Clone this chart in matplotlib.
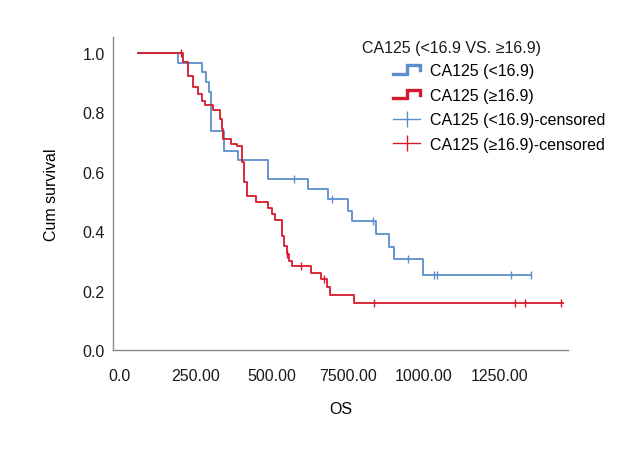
import numpy as np
import matplotlib
matplotlib.use("Agg")
import matplotlib.pyplot as plt
from matplotlib.lines import Line2D
from matplotlib.legend_handler import HandlerBase

plt.rcParams['font.family'] = ['Liberation Sans', 'DejaVu Sans']

# Kaplan-Meier steps
blue_t = [59, 191, 270, 283, 293, 299, 342, 388, 487, 618, 684, 750, 763, 842, 885, 901, 997, 1352]
blue_s = [1.0, 0.966, 0.936, 0.902, 0.869, 0.737, 0.670, 0.640, 0.576, 0.542, 0.508, 0.468,
          0.434, 0.390, 0.347, 0.306, 0.252, 0.252]
blue_cens = [572, 697, 832, 947, 1033, 1043, 1286, 1352]

red_t = [59, 207, 224, 240, 257, 270, 280, 306, 329, 336, 339, 365, 385, 401, 408, 418, 447, 487,
         500, 510, 533, 539, 549, 556, 566, 628, 661, 681, 691, 770, 1457]
red_s = [1.0, 0.970, 0.922, 0.886, 0.862, 0.838, 0.825, 0.808, 0.778, 0.744, 0.710, 0.695, 0.687,
         0.633, 0.566, 0.520, 0.498, 0.478, 0.458, 0.438, 0.384, 0.350, 0.323, 0.300, 0.283,
         0.259, 0.239, 0.212, 0.185, 0.158, 0.158]
red_cens = [201, 549, 595, 671, 836, 1299, 1332, 1451]

xticks = [0, 250, 500, 750, 1000, 1250]
xlabels = ['0.0', '250.00', '500.00', '7500.00', '1000.00', '1250.00']
yticks = [0.0, 0.2, 0.4, 0.6, 0.8, 1.0]
ylabels = ['0.0', '0.2', '0.4', '0.6', '0.8', '1.0']

BLUE = '#5b8fcb'
RED = '#d8192c'
FS = 11.5


def surv_at(t, s, c):
    idx = np.searchsorted(t, c, side='right') - 1
    return np.array(s)[idx]


class StepHandler(HandlerBase):
    def create_artists(self, legend, orig_handle, xdescent, ydescent,
                       width, height, fontsize, trans):
        x0 = -xdescent
        y0 = -ydescent
        xs = [x0, x0 + width * 0.5, x0 + width * 0.5, x0 + width, x0 + width]
        ys = [y0 + height * 0.1, y0 + height * 0.1, y0 + height * 0.85,
              y0 + height * 0.85, y0 + height * 0.45]
        ln = Line2D(xs, ys, color=orig_handle.get_color(), lw=2.4,
                    solid_joinstyle='miter', transform=trans)
        return [ln]


fig = plt.figure(figsize=(6.4, 4.6), dpi=100)
ax = fig.add_axes([113 / 640, 1 - 351 / 460, (568 - 113) / 640, (351 - 38) / 460])

ax.step(blue_t, blue_s, where='post', color=BLUE, lw=1.3)
ax.step(red_t, red_s, where='post', color=RED, lw=1.3)
ax.plot(blue_cens, surv_at(blue_t, blue_s, blue_cens), ls='none', marker='|',
        ms=6, mew=1.0, color=BLUE)
ax.plot(red_cens, surv_at(red_t, red_s, red_cens), ls='none', marker='|',
        ms=6, mew=1.0, color=RED)

ax.set_xlim(-23, 1474)
ax.set_ylim(0, 1.054)
ax.set_xticks(xticks)
ax.set_xticklabels(xlabels)
ax.set_yticks(yticks)
ax.set_yticklabels(ylabels)
ax.tick_params(length=0, labelsize=FS, colors='#1a1a1a')
ax.tick_params(axis='x', pad=13)
ax.tick_params(axis='y', pad=6)
for sp in ['top', 'right']:
    ax.spines[sp].set_visible(False)
for sp in ['left', 'bottom']:
    ax.spines[sp].set_color('#8a8a8a')
    ax.spines[sp].set_linewidth(1.0)

ax.set_xlabel('OS', fontsize=FS, labelpad=13)
ax.set_ylabel('Cum survival', fontsize=FS, labelpad=17)

fig.text(362 / 640, 1 - 48 / 460, 'CA125 (<16.9 VS. \u226516.9)', fontsize=FS,
         ha='left', va='center', color='#1a1a1a')

h1 = Line2D([], [], color=BLUE)
h2 = Line2D([], [], color=RED)
h3 = Line2D([], [], color=BLUE, lw=1.0, marker='|', ms=12, mew=1.0)
h4 = Line2D([], [], color=RED, lw=1.0, marker='|', ms=12, mew=1.0)
leg = fig.legend([h1, h2, h3, h4],
                 ['CA125 (<16.9)', 'CA125 (\u226516.9)',
                  'CA125 (<16.9)-censored', 'CA125 (\u226516.9)-censored'],
                 handler_map={h1: StepHandler(), h2: StepHandler()},
                 loc='upper left', bbox_to_anchor=(393 / 640, 1 - 64 / 460),
                 frameon=False, fontsize=FS, handlelength=1.7, handletextpad=0.6,
                 labelspacing=0.6, borderpad=0, borderaxespad=0)

fig.savefig('out.png', dpi=100)
